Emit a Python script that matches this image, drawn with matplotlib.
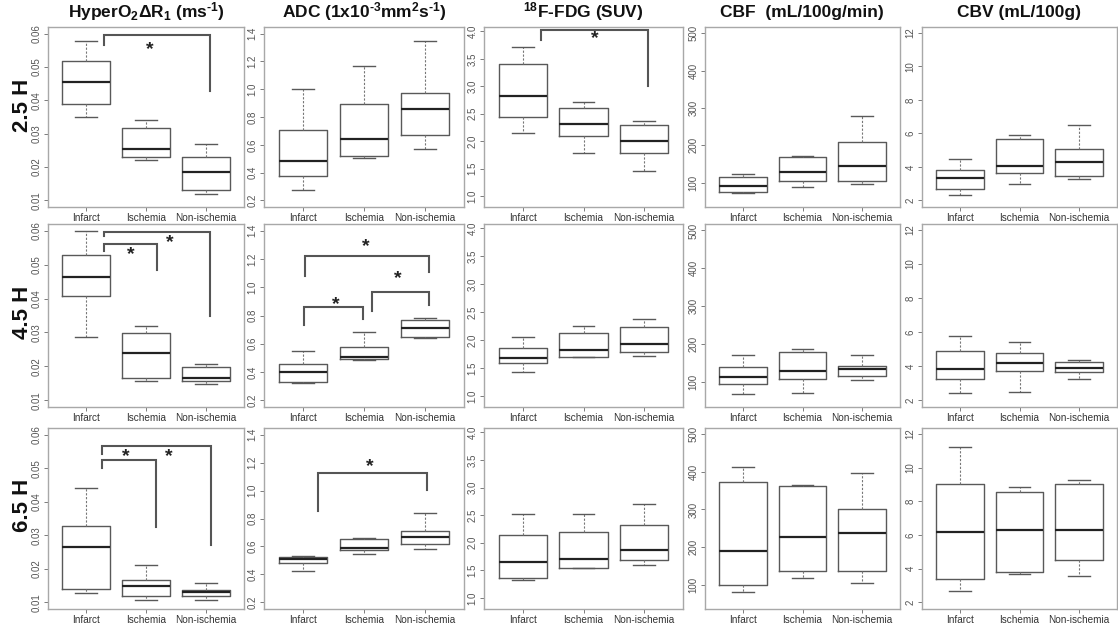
import matplotlib
matplotlib.use("Agg")
import matplotlib.pyplot as plt

plt.rcParams['font.family'] = ['Liberation Sans', 'DejaVu Sans']
plt.rcParams['mathtext.fontset'] = 'custom'
plt.rcParams['mathtext.rm'] = 'Liberation Sans:bold'
plt.rcParams['mathtext.it'] = 'Liberation Sans:bold'
plt.rcParams['mathtext.bf'] = 'Liberation Sans:bold'

# ---------------- data ----------------
groups = ["Infarct", "Ischemia", "Non-ischemia"]
times = ["2.5 H", "4.5 H", "6.5 H"]
titles = [r"HyperO$_2$$\Delta$R$_1$ (ms$^{\text{-}1}$)",
          r"ADC (1x10$^{\text{-}3}$mm$^2$s$^{\text{-}1}$)",
          r"$^{18}$F-FDG (SUV)",
          "CBF  (mL/100g/min)",
          "CBV (mL/100g)"]

# each group: [whisker low, Q1, median, Q3, whisker high]
hyper_25 = [[0.0349, 0.0390, 0.0454, 0.0518, 0.0578],
            [0.0220, 0.0229, 0.0254, 0.0318, 0.0340],
            [0.0119, 0.0130, 0.0184, 0.0229, 0.0269]]
hyper_45 = [[0.0287, 0.0408, 0.0463, 0.0529, 0.0599],
            [0.0158, 0.0167, 0.0238, 0.0297, 0.0318],
            [0.0147, 0.0158, 0.0167, 0.0198, 0.0208]]
hyper_65 = [[0.0129, 0.0139, 0.0264, 0.0329, 0.0441],
            [0.0108, 0.0118, 0.0150, 0.0167, 0.0210],
            [0.0108, 0.0118, 0.0132, 0.0138, 0.0158]]

adc_25 = [[0.277, 0.373, 0.483, 0.709, 1.000],
          [0.505, 0.522, 0.642, 0.894, 1.170],
          [0.572, 0.673, 0.855, 0.973, 1.347]]
adc_45 = [[0.322, 0.329, 0.398, 0.459, 0.551],
          [0.485, 0.489, 0.506, 0.579, 0.680],
          [0.640, 0.649, 0.711, 0.765, 0.784]]
adc_65 = [[0.421, 0.482, 0.511, 0.527, 0.530],
          [0.543, 0.572, 0.586, 0.652, 0.661],
          [0.581, 0.619, 0.668, 0.711, 0.842]]

fdg_25 = [[2.14, 2.44, 2.82, 3.40, 3.71],
          [1.79, 2.10, 2.31, 2.60, 2.71],
          [1.45, 1.79, 2.00, 2.30, 2.36]]
fdg_45 = [[1.42, 1.58, 1.67, 1.86, 2.06],
          [1.69, 1.69, 1.82, 2.12, 2.25],
          [1.72, 1.78, 1.93, 2.24, 2.38]]
fdg_65 = [[1.33, 1.37, 1.66, 2.14, 2.52],
          [1.54, 1.54, 1.70, 2.20, 2.53],
          [1.59, 1.68, 1.87, 2.33, 2.70]]

cbf_25 = [[72, 74, 92, 116, 124],
          [88, 104, 130, 170, 172],
          [96, 104, 145, 208, 279]]
cbf_45 = [[70, 95, 114, 140, 173],
          [71, 108, 131, 181, 187],
          [105, 116, 135, 144, 173]]
cbf_65 = [[80, 100, 190, 372, 412],
          [118, 135, 228, 362, 366],
          [105, 135, 237, 302, 398]]

cbv_25 = [[2.34, 2.66, 3.36, 3.78, 4.48],
          [2.96, 3.66, 4.04, 5.66, 5.90],
          [3.26, 3.44, 4.28, 5.05, 6.48]]
cbv_45 = [[2.44, 3.26, 3.85, 4.90, 5.79],
          [2.50, 3.70, 4.19, 4.80, 5.39],
          [3.24, 3.66, 3.87, 4.23, 4.38]]
cbv_65 = [[2.64, 3.36, 6.20, 9.00, 11.20],
          [3.66, 3.81, 6.30, 8.55, 8.82],
          [3.54, 4.50, 6.27, 9.05, 9.27]]

panel_data = [[hyper_25, adc_25, fdg_25, cbf_25, cbv_25],
              [hyper_45, adc_45, fdg_45, cbf_45, cbv_45],
              [hyper_65, adc_65, fdg_65, cbf_65, cbv_65]]

yticks = [[0.01, 0.02, 0.03, 0.04, 0.05, 0.06],
          [0.2, 0.4, 0.6, 0.8, 1.0, 1.2, 1.4],
          [1.0, 1.5, 2.0, 2.5, 3.0, 3.5, 4.0],
          [100, 200, 300, 400, 500],
          [2, 4, 6, 8, 10, 12]]
ytick_labels = [["0.01", "0.02", "0.03", "0.04", "0.05", "0.06"],
                ["0.2", "0.4", "0.6", "0.8", "1.0", "1.2", "1.4"],
                ["1.0", "1.5", "2.0", "2.5", "3.0", "3.5", "4.0"],
                ["100", "200", "300", "400", "500"],
                ["2", "4", "6", "8", "10", "12"]]
ylims = [(0.008, 0.062), (0.152, 1.448), (0.80, 4.08), (35, 517), (1.6, 12.35)]

# significance brackets: (row, col, x_left, x_right, y_left_end, y_top, y_right_end)
brackets = [(0, 0, 1.30, 3.07, 0.0567, 0.0595, 0.0427),
            (0, 2, 1.30, 3.07, 3.85, 4.02, 3.01),
            (1, 0, 1.30, 2.19, 0.0540, 0.0561, 0.0484),
            (1, 0, 1.30, 3.07, 0.0585, 0.0595, 0.0350),
            (1, 1, 1.02, 1.98, 0.734, 0.859, 0.776),
            (1, 1, 2.13, 3.06, 0.835, 0.965, 0.871),
            (1, 1, 1.04, 3.06, 1.082, 1.219, 1.106),
            (2, 0, 1.26, 2.16, 0.0500, 0.0526, 0.0325),
            (2, 0, 1.26, 3.08, 0.0543, 0.0567, 0.0270),
            (2, 1, 1.24, 3.04, 0.856, 1.127, 1.005)]
# stars: (row, col, x, y)
stars = [(0, 0, 2.07, 0.0553),
         (0, 2, 2.18, 3.86),
         (1, 0, 1.75, 0.0531),
         (1, 0, 2.40, 0.0566),
         (1, 1, 1.53, 0.880),
         (1, 1, 2.55, 1.060),
         (1, 1, 2.03, 1.290),
         (2, 0, 1.67, 0.0534),
         (2, 0, 2.38, 0.0534),
         (2, 1, 2.10, 1.175)]

# ---------------- layout ----------------
W, H = 1118, 624
fig = plt.figure(figsize=(W / 100, H / 100), dpi=100)
fig.patch.set_facecolor("white")

col_px = [(48, 244), (264, 464), (484, 683), (705, 900), (922, 1117)]
row_px = [(27, 207), (224, 407), (428, 609)]

frame_col = "#a8a8a8"
box_col = "#595959"
tick_col = "#666666"

axes = {}
for r in range(3):
    for c in range(5):
        x0, x1 = col_px[c]
        y0, y1 = row_px[r]
        ax = fig.add_axes([x0 / W, 1 - y1 / H, (x1 - x0) / W, (y1 - y0) / H])
        axes[(r, c)] = ax
        vals = panel_data[r][c]
        stats = []
        for g, v in zip(groups, vals):
            stats.append(dict(whislo=v[0], q1=v[1], med=v[2], q3=v[3],
                              whishi=v[4], fliers=[], label=g))
        ax.bxp(stats, positions=[1, 2, 3], widths=0.8, showfliers=False,
               capwidths=0.36,
               boxprops=dict(color=box_col, linewidth=1.0),
               whiskerprops=dict(color="#777777", linewidth=0.8,
                                 linestyle=(0, (2, 1.5))),
               capprops=dict(color=box_col, linewidth=1.0),
               medianprops=dict(color="#222222", linewidth=1.6))
        ax.set_xlim(0.36, 3.64)
        ax.set_ylim(*ylims[c])
        ax.set_yticks(yticks[c])
        ax.set_yticklabels(ytick_labels[c], rotation=90, va="center",
                           fontsize=7, color="#555555")
        ax.set_xticks([1, 2, 3])
        ax.set_xticklabels(groups, fontsize=7.2, color="#333333")
        ax.tick_params(axis="both", direction="out", length=3, width=0.6,
                       color=tick_col, pad=1.5)
        for s in ax.spines.values():
            s.set_color(frame_col)
            s.set_linewidth(1.0)

for (r, c, xl, xr, yl, yt, yr) in brackets:
    ax = axes[(r, c)]
    ax.plot([xl, xl, xr, xr], [yl, yt, yt, yr], color="#555555",
            linewidth=1.5, solid_joinstyle="miter", clip_on=False)
for (r, c, x, y) in stars:
    axes[(r, c)].text(x, y, "*", ha="center", va="center", fontsize=14,
                      fontweight="bold", color="#222222")

# column titles
title_x = [146, 364, 583, 802, 1019]
for c in range(5):
    fig.text(title_x[c] / W, 1 - 12 / H, titles[c], ha="center", va="center",
             fontsize=12.5, fontweight="bold", color="#111111")

# row labels
row_y = [105, 312, 505]
for r in range(3):
    fig.text(22 / W, 1 - row_y[r] / H, times[r], rotation=90, ha="center",
             va="center", fontsize=16, fontweight="bold", color="#111111")

fig.savefig("out.png", dpi=100, facecolor="white")
